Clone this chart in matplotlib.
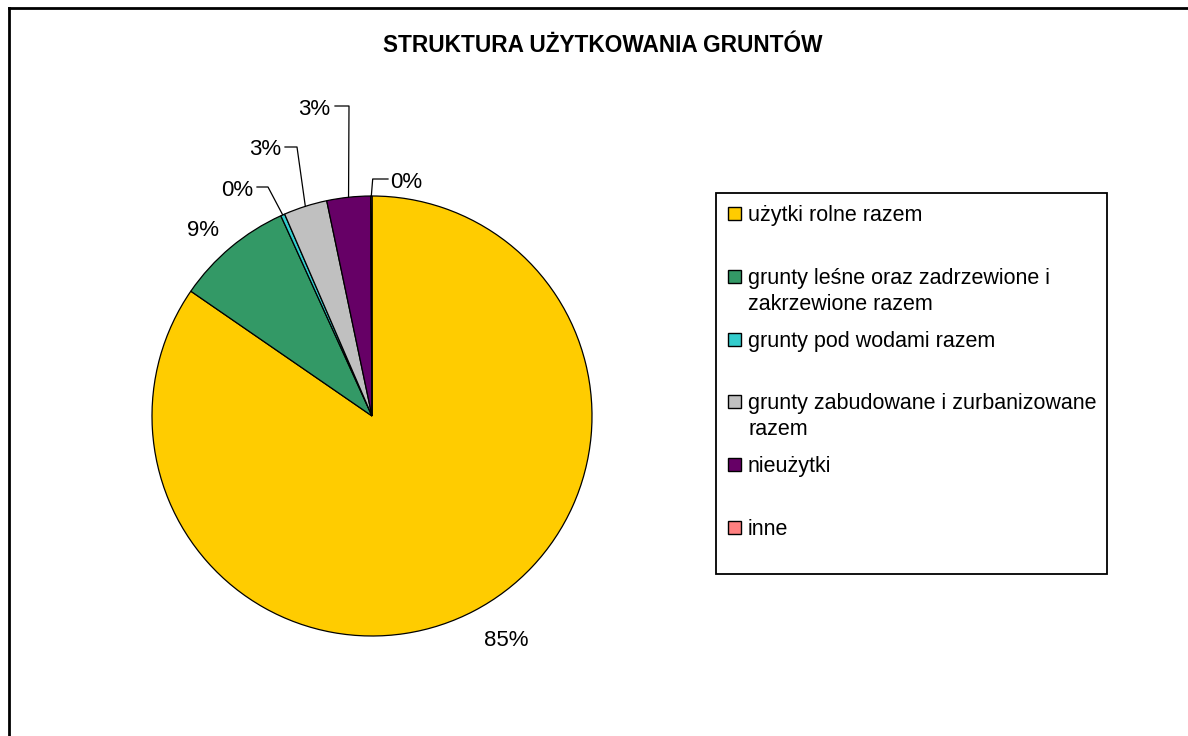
import numpy as np
import matplotlib
matplotlib.use("Agg")
import matplotlib.pyplot as plt
from matplotlib.patches import Rectangle
from matplotlib.lines import Line2D

plt.rcParams['font.family'] = ['Liberation Sans', 'DejaVu Sans']

# data
categories = ['użytki rolne razem',
              'grunty leśne oraz zadrzewione i zakrzewione razem',
              'grunty pod wodami razem',
              'grunty zabudowane i zurbanizowane razem',
              'nieużytki',
              'inne']
legend_labels = ['użytki rolne razem',
                 'grunty leśne oraz zadrzewione i\nzakrzewione razem',
                 'grunty pod wodami razem',
                 'grunty zabudowane i zurbanizowane\nrazem',
                 'nieużytki',
                 'inne']
shares = [84.6, 8.6, 0.3, 3.2, 3.2, 0.1]
colors = ['#FFCC00', '#339966', '#33CCCC', '#C0C0C0', '#660066', '#FF8080']

W, H = 1188, 736
fig = plt.figure(figsize=(W / 100, H / 100), dpi=100)

def fx(px):
    return px / W

def fy(py):
    return 1 - py / H

# outer frame (top and left only visible)
fig.add_artist(Line2D([fx(8.5), 1], [fy(7.5), fy(7.5)], color='black', lw=2))
fig.add_artist(Line2D([fx(8.5), fx(8.5)], [fy(7.5), 0], color='black', lw=2))

fig.text(fx(603), fy(51.7), 'STRUKTURA UŻYTKOWANIA GRUNTÓW', ha='center', va='baseline',
         fontsize=16.3, fontweight='bold')

# pie
cx, cy, r = 372, 416, 220
ax = fig.add_axes([fx(cx - r), fy(cy + r), 2 * r / W, 2 * r / H])
wedges, _ = ax.pie(shares, colors=colors, startangle=90, counterclock=False, radius=1,
                   wedgeprops=dict(edgecolor='black', linewidth=0.9))
ax.set_xlim(-1, 1)
ax.set_ylim(-1, 1)
ax.axis('off')

def dx(px):
    return (px - cx) / r

def dy(py):
    return (cy - py) / r

total = sum(shares)
pct = ['%d%%' % round(v / total * 100) for v in shares]

# label centres and leader elbows (pixels)
label_pos = [(506, 638.5), (203.5, 228), (237.5, 188.5), (265, 147.5), (314, 107.5), (406, 180.5)]
leaders = {2: [(257, 187), (268, 187)],
           3: [(285, 147), (297, 147)],
           4: [(335, 106), (349, 106)],
           5: [(388, 179), (372.7, 179)]}

for i, w in enumerate(wedges):
    tx, ty = label_pos[i]
    ax.text(dx(tx), dy(ty + 7.5), pct[i], ha='center', va='baseline', fontsize=16,
            clip_on=False)
    if i in leaders:
        mid = np.deg2rad((w.theta1 + w.theta2) / 2)
        pts = leaders[i] + [(cx + r * np.cos(mid), cy - r * np.sin(mid))]
        ax.plot([dx(p[0]) for p in pts], [dy(p[1]) for p in pts], color='black', lw=0.9,
                clip_on=False)

# legend box
fig.add_artist(Rectangle((fx(716), fy(574)), (1107 - 716) / W, (574 - 193) / H,
                         fill=False, edgecolor='black', lw=1.3))
for i, lab in enumerate(legend_labels):
    yc = 213.5 + i * 62.8
    fig.add_artist(Rectangle((fx(728), fy(yc + 6.5)), 13 / W, 13 / H, facecolor=colors[i],
                             edgecolor='black', lw=1))
    for k, line in enumerate(lab.split('\n')):
        fig.text(fx(748), fy(yc + 7.5 + k * 26), line, ha='left', va='baseline', fontsize=15.5)

fig.savefig('out.png', dpi=100)
